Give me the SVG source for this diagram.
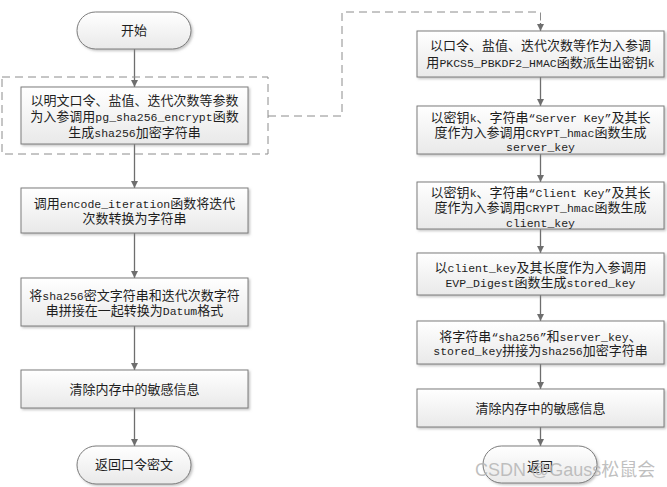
<svg xmlns="http://www.w3.org/2000/svg" width="667" height="487" viewBox="0 0 667 487">
<defs>
<linearGradient id="g" x1="0" y1="0" x2="0" y2="1">
<stop offset="0" stop-color="#ffffff"/>
<stop offset="1" stop-color="#e9e9e9"/>
</linearGradient>
<filter id="sh" x="-5%" y="-10%" width="115%" height="130%">
<feDropShadow dx="1.5" dy="1.5" stdDeviation="0.8" flood-color="#888" flood-opacity="0.5"/>
</filter>
<marker id="ah" viewBox="0 0 10 10" refX="10" refY="5" markerWidth="7" markerHeight="7" markerUnits="userSpaceOnUse" orient="auto">
<path d="M0,0 L10,5 L0,10 z" fill="#6e6e6e"/>
</marker>
</defs>
<style>
.box{fill:url(#g);stroke:#7c7c7c;stroke-width:1;filter:url(#sh)}
.t{font-family:"Noto Sans CJK SC",sans-serif;font-size:13px;fill:#1e1e1e;text-anchor:middle}
.m{font-family:"Liberation Mono","Noto Sans CJK SC",monospace;font-size:11.5px}
.c{stroke:#6e6e6e;stroke-width:1.3;fill:none;marker-end:url(#ah)}
.d{stroke:#8c8c8c;stroke-width:1;stroke-dasharray:8 5;fill:none}
.wm{font-family:"Liberation Sans","Noto Sans CJK SC",sans-serif;font-size:18px;fill:#b4b4b4;fill-opacity:0.85}
</style>
<rect x="0" y="0" width="667" height="487" fill="#ffffff"/>
<g id="connectors">
<line class="c" x1="134.5" y1="49" x2="134.5" y2="87"/>
<line class="c" x1="134.5" y1="144" x2="134.5" y2="188"/>
<line class="c" x1="134.5" y1="233" x2="134.5" y2="278"/>
<line class="c" x1="134.5" y1="326" x2="134.5" y2="370"/>
<line class="c" x1="134.5" y1="408" x2="134.5" y2="446"/>
<polyline class="d" points="268,116 342,116 342,12 540.5,12 540.5,24"/>
<line class="c" x1="540.5" y1="23" x2="540.5" y2="31"/>
<line class="c" x1="540.5" y1="77" x2="540.5" y2="106"/>
<line class="c" x1="540.5" y1="154" x2="540.5" y2="182"/>
<line class="c" x1="540.5" y1="229" x2="540.5" y2="253"/>
<line class="c" x1="540.5" y1="295" x2="540.5" y2="321"/>
<line class="c" x1="540.5" y1="364" x2="540.5" y2="389"/>
<line class="c" x1="540.5" y1="427" x2="540.5" y2="446"/>
</g>
<g id="group-dashed">
<rect class="d" x="2" y="77" width="266" height="77"/>
</g>
<g id="start">
<rect class="box" x="77" y="12" width="114" height="37" rx="18.5"/>
<text class="t" x="134" y="35">开始</text>
</g>
<g id="l1">
<rect class="box" x="21" y="87" width="227" height="57"/>
<text class="t" x="134.5" y="105">以明文口令、盐值、迭代次数等参数</text>
<text class="t" x="134.5" y="121">为入参调用<tspan class="m">pg_sha256_encrypt</tspan>函数</text>
<text class="t" x="134.5" y="137">生成<tspan class="m">sha256</tspan>加密字符串</text>
</g>
<g id="l2">
<rect class="box" x="21" y="188" width="227" height="45"/>
<text class="t" x="134.5" y="208">调用<tspan class="m">encode_iteration</tspan>函数将迭代</text>
<text class="t" x="134.5" y="223">次数转换为字符串</text>
</g>
<g id="l3">
<rect class="box" x="21" y="278" width="227" height="48"/>
<text class="t" x="134.5" y="300">将<tspan class="m">sha256</tspan>密文字符串和迭代次数字符</text>
<text class="t" x="134.5" y="315">串拼接在一起转换为<tspan class="m">Datum</tspan>格式</text>
</g>
<g id="l4">
<rect class="box" x="21" y="370" width="227" height="38"/>
<text class="t" x="134.5" y="394">清除内存中的敏感信息</text>
</g>
<g id="l-end">
<rect class="box" x="77" y="446" width="114" height="38" rx="19"/>
<text class="t" x="134" y="469">返回口令密文</text>
</g>
<g id="r1">
<rect class="box" x="417" y="31" width="247" height="46"/>
<text class="t" x="540.5" y="50">以口令、盐值、迭代次数等作为入参调</text>
<text class="t" x="540.5" y="67">用<tspan class="m">PKCS5_PBKDF2_HMAC</tspan>函数派生出密钥<tspan class="m">k</tspan></text>
</g>
<g id="r2">
<rect class="box" x="417" y="106" width="247" height="48"/>
<text class="t" x="540.5" y="122">以密钥<tspan class="m">k</tspan>、字符串<tspan class="m">“Server Key”</tspan>及其长</text>
<text class="t" x="540.5" y="137">度作为入参调用<tspan class="m">CRYPT_hmac</tspan>函数生成</text>
<text class="t" x="540.5" y="151"><tspan class="m">server_key</tspan></text>
</g>
<g id="r3">
<rect class="box" x="417" y="182" width="247" height="47"/>
<text class="t" x="540.5" y="197">以密钥<tspan class="m">k</tspan>、字符串<tspan class="m">“Client Key”</tspan>及其长</text>
<text class="t" x="540.5" y="212">度作为入参调用<tspan class="m">CRYPT_hmac</tspan>函数生成</text>
<text class="t" x="540.5" y="227"><tspan class="m">client_key</tspan></text>
</g>
<g id="r4">
<rect class="box" x="417" y="253" width="247" height="42"/>
<text class="t" x="540.5" y="272">以<tspan class="m">client_key</tspan>及其长度作为入参调用</text>
<text class="t" x="540.5" y="287"><tspan class="m">EVP_Digest</tspan>函数生成<tspan class="m">stored_key</tspan></text>
</g>
<g id="r5">
<rect class="box" x="417" y="321" width="247" height="43"/>
<text class="t" x="540.5" y="341">将字符串<tspan class="m">“sha256”</tspan>和<tspan class="m">server_key</tspan>、</text>
<text class="t" x="540.5" y="355"><tspan class="m">stored_key</tspan>拼接为<tspan class="m">sha256</tspan>加密字符串</text>
</g>
<g id="r6">
<rect class="box" x="417" y="389" width="247" height="38"/>
<text class="t" x="540.5" y="413">清除内存中的敏感信息</text>
</g>
<g id="r-end">
<rect class="box" x="483" y="446" width="114" height="37" rx="18.5"/>
<text class="t" x="540" y="471">返回</text>
</g>
<text class="wm" x="475" y="476">CSDN @Gauss松鼠会</text>
</svg>
